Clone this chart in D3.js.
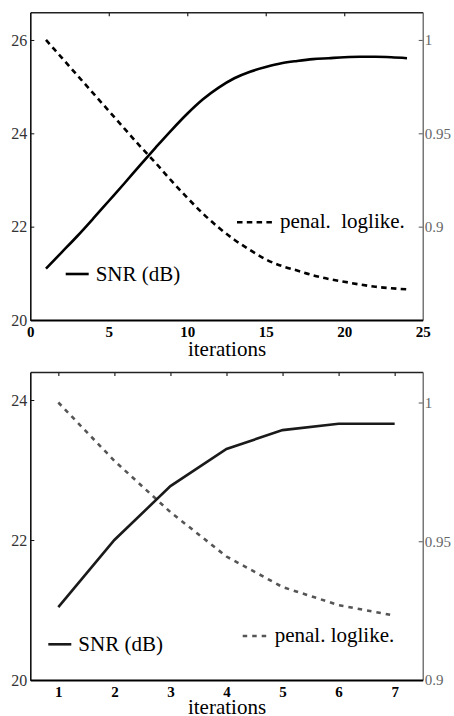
<!DOCTYPE html>
<html>
<head>
<meta charset="utf-8">
<script src="https://cdn.jsdelivr.net/npm/d3@7"></script>
<style>
  body { margin: 0; background: #fff; }
  svg, svg text { font-family: "Liberation Serif", "Times New Roman", serif; }
</style>
</head>
<body>
<script>
/* data */
var topIter = [1,2,3,4,5,6,7,8,9,10,11,12,13,14,15,16,17,18,19,20,21,22,23,24];
var topSnr = [21.1,21.45,21.8,22.17,22.55,22.93,23.32,23.7,24.07,24.42,24.73,24.98,
              25.18,25.32,25.42,25.5,25.55,25.59,25.61,25.63,25.64,25.64,25.63,25.61];
var topLoglike = [1.0,0.9905,0.981,0.9715,0.962,0.9525,0.943,0.934,0.9245,0.9155,0.907,0.8995,
                  0.893,0.8875,0.8825,0.879,0.8765,0.874,0.872,0.8705,0.869,0.8678,0.867,0.8664];
var topXTicks = [0,5,10,15,20,25];
var topLeftTicks = [20,22,24,26];
var topRightTicks = [0.9,0.95,1];

var botIter = [1,2,3,4,5,6,7];
var botSnr = [21.04,22.0,22.77,23.3,23.57,23.66,23.66];
var botLoglike = [1.0,0.979,0.9605,0.9445,0.9335,0.927,0.9232];
var botXTicks = [1,2,3,4,5,6,7];
var botLeftTicks = [20,22,24];
var botRightTicks = [0.9,0.95,1];

var W = 454, H = 716;
var SERIF = "Liberation Serif, Times New Roman, serif";
var fmt = d3.format("~g");
var svg = d3.select("body").append("svg")
    .attr("width", W)
    .attr("height", H)
    .attr("font-family", SERIF);

function panel(o) {
    var x = d3.scaleLinear().domain(o.xDomain).range([30.3, 422.7]);
    var yL = d3.scaleLinear().domain(o.yLDomain).range([o.bottom, o.top]);
    var yR = d3.scaleLinear().domain(o.yRDomain).range([o.bottom, o.top]);

    var g = svg.append("g");

    // top border with inward ticks
    var ta = g.append("g").attr("transform", "translate(0," + o.top + ")")
        .call(d3.axisTop(x).tickValues(o.topTicks).tickSizeInner(-4).tickSizeOuter(0).tickFormat(""));
    ta.select(".domain").attr("stroke", "#222").attr("stroke-width", 1.4);
    ta.selectAll(".tick line").attr("stroke", "#222").attr("stroke-width", 1.2);

    // right axis (loglike)
    var ra = g.append("g").attr("transform", "translate(422.7,0)")
        .call(d3.axisRight(yR).tickValues(o.rightTicks).tickSizeInner(-4).tickSizeOuter(0).tickPadding(2).tickFormat(fmt))
        .attr("font-family", SERIF);
    ra.select(".domain").attr("stroke", "#555").attr("stroke-width", 1.2);
    ra.selectAll(".tick line").attr("stroke", "#555");
    ra.selectAll("text").attr("fill", "#666").attr("font-size", 15);

    // left axis (SNR)
    var la = g.append("g").attr("transform", "translate(30.3,0)")
        .call(d3.axisLeft(yL).tickValues(o.leftTicks).tickSizeInner(-4).tickSizeOuter(0).tickPadding(3).tickFormat(fmt))
        .attr("font-family", SERIF);
    la.select(".domain").attr("stroke", "#111").attr("stroke-width", 1.6);
    la.selectAll(".tick line").attr("stroke", "#111");
    la.selectAll("text").attr("fill", "#333").attr("font-size", 16);

    // bottom axis
    var ba = g.append("g").attr("transform", "translate(0," + o.bottom + ")")
        .call(d3.axisBottom(x).tickValues(o.xTicks).tickSize(0).tickSizeOuter(0).tickPadding(o.xPad).tickFormat(fmt))
        .attr("font-family", SERIF);
    ba.select(".domain").attr("stroke", "#000").attr("stroke-width", 2.2);
    ba.selectAll("text").attr("fill", "#000").attr("font-size", 15).attr("font-weight", "bold");

    g.append("text")
        .attr("x", 227).attr("y", o.labelY)
        .attr("text-anchor", "middle")
        .attr("font-family", SERIF)
        .attr("font-size", 21)
        .text("iterations");

    var lineSnr = d3.line().x(function(d, i){ return x(o.iter[i]); }).y(function(d){ return yL(d); }).curve(o.curve);
    var lineLl = d3.line().x(function(d, i){ return x(o.iter[i]); }).y(function(d){ return yR(d); }).curve(o.curve);

    g.append("path").datum(o.loglike)
        .attr("d", lineLl)
        .attr("fill", "none")
        .attr("stroke", o.dashColor)
        .attr("stroke-width", 2.6)
        .attr("stroke-dasharray", o.dash);

    g.append("path").datum(o.snr)
        .attr("d", lineSnr)
        .attr("fill", "none")
        .attr("stroke", o.solidColor)
        .attr("stroke-width", 2.6);

    // legends
    g.append("line")
        .attr("x1", o.snrLeg[0]).attr("x2", o.snrLeg[0] + 23)
        .attr("y1", o.snrLeg[1]).attr("y2", o.snrLeg[1])
        .attr("stroke", o.solidColor).attr("stroke-width", 2.6);
    g.append("text")
        .attr("x", o.snrLeg[0] + 30).attr("y", o.snrLeg[1] + 7)
        .attr("font-family", SERIF)
        .attr("font-size", 21)
        .text("SNR (dB)");

    g.append("line")
        .attr("x1", o.llLeg[0]).attr("x2", o.llLeg[0] + o.llLen)
        .attr("y1", o.llLeg[1]).attr("y2", o.llLeg[1])
        .attr("stroke", o.dashColor).attr("stroke-width", 2.6)
        .attr("stroke-dasharray", o.dash);
    g.append("text")
        .attr("x", o.llLeg[0] + o.llLen + 8).attr("y", o.llLeg[1] + 6)
        .attr("font-family", SERIF)
        .attr("font-size", 21)
        .style("white-space", "pre")
        .text(o.llText);
}

panel({
    xDomain: [0, 25], yLDomain: [20, 26.593], yRDomain: [0.85, 1.0148],
    top: 12.3, bottom: 320,
    topTicks: [5, 10, 15, 20], xTicks: topXTicks, leftTicks: topLeftTicks, rightTicks: topRightTicks,
    xPad: 6, labelY: 356,
    iter: topIter, snr: topSnr, loglike: topLoglike,
    curve: d3.curveMonotoneX, solidColor: "#000", dashColor: "#000", dash: "5.5,4.3",
    snrLeg: [65.7, 274], llLeg: [237, 222.3], llLen: 35, llText: "penal.  loglike."
});

panel({
    xDomain: [0.5, 7.5], yLDomain: [20, 24.4], yRDomain: [0.9, 1.011],
    top: 372, bottom: 680,
    topTicks: botXTicks, xTicks: botXTicks, leftTicks: botLeftTicks, rightTicks: botRightTicks,
    xPad: 6, labelY: 714,
    iter: botIter, snr: botSnr, loglike: botLoglike,
    curve: d3.curveLinear, solidColor: "#1a1a1a", dashColor: "#555", dash: "4.5,5",
    snrLeg: [48.3, 644.3], llLeg: [242.7, 636], llLen: 24, llText: "penal. loglike."
});
</script>
</body>
</html>
